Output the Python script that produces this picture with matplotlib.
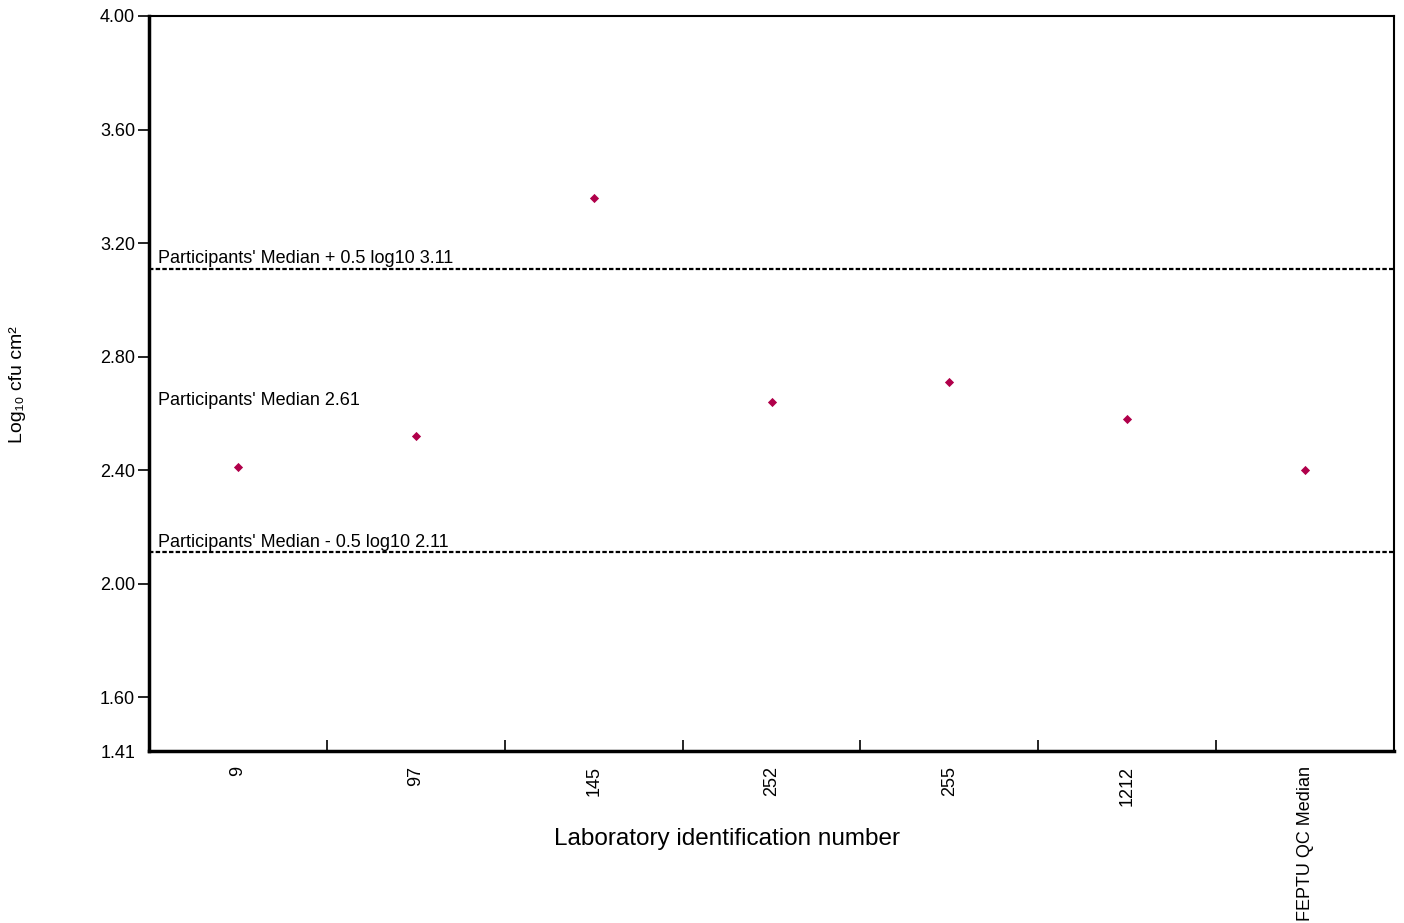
import matplotlib
matplotlib.use("Agg")
import matplotlib.pyplot as plt

plt.rcParams['font.family'] = ['Liberation Sans', 'DejaVu Sans']

labs = ["9", "97", "145", "252", "255", "1212", "FEPTU QC Median"]
values = [2.41, 2.52, 3.36, 2.64, 2.71, 2.58, 2.40]
median = 2.61
upper = 3.11
lower = 2.11
yticks = [1.41, 1.60, 2.00, 2.40, 2.80, 3.20, 3.60, 4.00]
ytick_labels = ["1.41", "1.60", "2.00", "2.40", "2.80", "3.20", "3.60", "4.00"]

fig = plt.figure(figsize=(14.04, 9.23), dpi=100)
ax = fig.add_axes([149/1404, 1 - 751/923, (1394-149)/1404, (751-16)/923])

x = list(range(len(labs)))
ax.scatter(x, values, marker='D', s=22, color='#B0004A', zorder=3, linewidths=0)

ax.axhline(upper, color='black', lw=1.6, ls=(0, (2.0, 1.0)))
ax.axhline(lower, color='black', lw=1.6, ls=(0, (2.0, 1.0)))

fs = 13
ax.text(-0.45, upper + 0.005, f"Participants' Median + 0.5 log10 {upper:.2f}", fontsize=fs, va='bottom', ha='left')
ax.text(-0.45, lower + 0.005, f"Participants' Median - 0.5 log10 {lower:.2f}", fontsize=fs, va='bottom', ha='left')
ax.text(-0.45, median + 0.005, f"Participants' Median {median:.2f}", fontsize=fs, va='bottom', ha='left')

ax.set_xlim(-0.5, len(labs) - 0.5)
ax.set_ylim(1.41, 4.00)

ax.set_yticks(yticks)
ax.set_yticklabels(ytick_labels, fontsize=fs)
ax.tick_params(axis='y', direction='out', length=8, width=1.2, pad=2)
for t in ax.yaxis.get_major_ticks():
    if abs(t.get_loc() - 1.41) < 1e-6:
        t.tick1line.set_visible(False)

ax.set_xticks(x)
ax.set_xticklabels(labs, rotation=90, fontsize=fs)
ax.tick_params(axis='x', length=0, pad=11)
ax.set_xticks([i + 0.5 for i in range(len(labs) - 1)], minor=True)
ax.tick_params(axis='x', which='minor', direction='in', length=8, width=1.2)

for s in ['left', 'bottom']:
    ax.spines[s].set_linewidth(2.5)
for s in ['top', 'right']:
    ax.spines[s].set_linewidth(1.5)

fig.text(727/1404, 1 - 839/923, "Laboratory identification number", fontsize=17.5, ha='center', va='center')
fig.text(18/1404, 1 - 385/923, "Log₁₀ cfu cm²", rotation=90, fontsize=14, ha='center', va='center')

fig.savefig("out.png", dpi=100)
